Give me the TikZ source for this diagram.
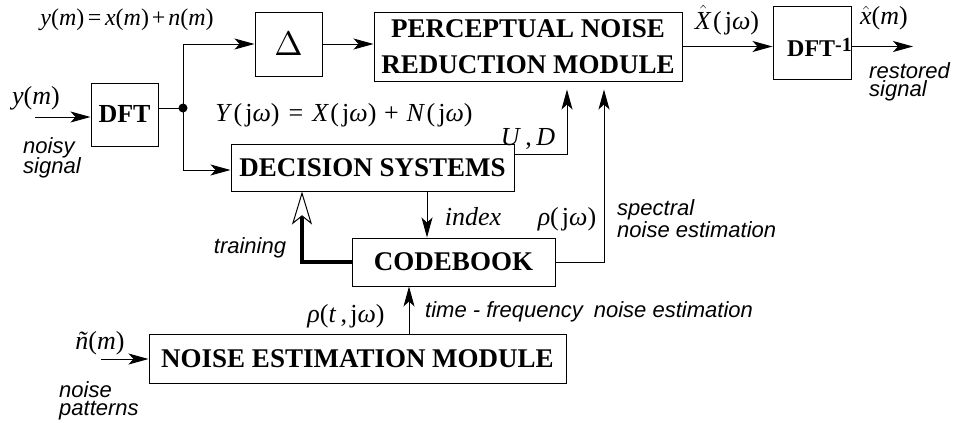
\documentclass[tikz,border=0pt]{standalone}
\usepackage{graphicx}
\usepackage{fontspec}
\setmainfont{Liberation Serif}
\newfontfamily\lsans{Liberation Sans}
\usetikzlibrary{arrows.meta}
\newcommand\mv[1]{\textit{#1}}
\newcommand\jw{\hspace{0.12em}j\mv{ω}}
\newcommand\hatof[1]{$\hat{\mbox{\textit{#1}}}$}
\begin{document}
\lineskiplimit=-30pt
\begin{tikzpicture}[x=1pt,y=-1pt,
  box/.style={draw, line width=1pt, inner sep=0pt, font=\fontsize{27}{36}\selectfont\bfseries},
  arr/.style={line width=1pt, -{Stealth[length=20pt,width=11pt,inset=5pt]}},
  ln/.style={line width=1pt},
  mt/.style={font=\fontsize{26}{28}\selectfont, inner sep=0pt},
  st/.style={font=\fontsize{22}{20}\selectfont\lsans\itshape, inner sep=0pt, align=left}]
\useasboundingbox (0,0) rectangle (956,423);
% boxes
\node[box, minimum width=67pt, minimum height=63pt, font=\fontsize{26}{30}\selectfont\bfseries] (dft) at (124.5,114.5) {DFT};
\node[box, minimum width=67pt, minimum height=64pt, font=\normalsize] (delta) at (288.5,44) {\scalebox{3.4}{$\Delta$}};
\node[box, minimum width=308pt, minimum height=69pt, align=center] (per) at (528,46.5) {PERCEPTUAL NOISE\\REDUCTION MODULE};
\node[box, minimum width=78pt, minimum height=73pt, font=\fontsize{24}{28}\selectfont\bfseries] (idft) at (812,42.5) {\rule{0pt}{29pt}\hspace*{7.5pt}DFT\raisebox{5pt}{\fontsize{20}{20}\selectfont\bfseries -1}\hspace*{-7.5pt}};
\node[box, minimum width=283pt, minimum height=47pt] (dec) at (372.5,167.5) {DECISION SYSTEMS};
\node[box, minimum width=203pt, minimum height=48pt] (cb) at (453.5,262) {CODEBOOK};
\node[box, minimum width=417pt, minimum height=49pt] (nem) at (357.5,358.5) {NOISE ESTIMATION MODULE};
% connectors
\coordinate (yin) at (35,117);
\draw[arr] (yin) -- (dft.west |- yin);
\coordinate (jn) at (183,108);
\draw[ln] (dft.east |- jn) -- (jn);
\fill (jn) circle (4.5pt);
\draw[arr] (jn) |- (delta.west);
\draw[arr] (jn) |- ([yshift=-2.5pt]dec.west);
\draw[arr] (delta.east) -- (per.west |- delta.east);
\draw[arr] (per.east) -- (idft.west |- per.east);
\coordinate (xout) at (913,46.5);
\draw[arr] (idft.east |- xout) -- (xout);
\draw[arr, shorten >=8pt] ([yshift=-11pt]dec.north east) -| ([xshift=39pt]per.south);
\draw[arr, shorten >=8pt] (cb.east) -| ([xshift=76pt]per.south);
\draw[arr] ([xshift=54.5pt]dec.south) -- ([xshift=54.5pt]dec.south |- cb.north);
\draw[line width=4pt, line join=miter, -{Stealth[open, fill=white, line width=1pt, length=33pt, width=20pt, inset=8pt]}] (cb.west) -| ([xshift=-70.5pt]dec.south);
\draw[arr] ([xshift=51.5pt]nem.north) -- ([xshift=51.5pt]nem.north |- cb.south);
\coordinate (nin) at (101,359);
\draw[arr] (nin) -- (nem.west |- nin);
% labels
\node[mt, font=\fontsize{24}{26}\selectfont] (l1) at (127,20) {\mv{y}(\mv{m})\hspace{0.15em}=\hspace{0.15em}\mv{x}(\mv{m})\hspace{0.12em}+\hspace{0.12em}\mv{n}(\mv{m})};
\node[mt] (l2) at (36,98) {\mv{y}(\mv{m})};
\node[st, anchor=north west] (l3) at (23,137) {noisy\\signal};
\node[mt] (l4) at (344,115) {\mv{Y}\hspace{0.05em}(\jw)\hspace{0.35em}=\hspace{0.35em}\mv{X}\hspace{0.05em}(\jw)\hspace{0.3em}+\hspace{0.3em}\mv{N}\hspace{0.05em}(\jw)};
\node[mt] (l5) at (727,20) {\hatof{X}\hspace{0.05em}(\jw)};
\node[mt] (l6) at (884,18) {\hatof{x}(\mv{m})};
\node[st, anchor=north west, font=\fontsize{22}{18}\selectfont\lsans\itshape] (l7) at (869,62) {restored\\signal};
\node[mt] (l8) at (528,139) {\mv{U}\,,\,\mv{D}};
\node[mt] (l9) at (473,217) {\mv{index}};
\node[mt] (l10) at (567,219) {\mv{ρ}(\jw)};
\node[st, anchor=north west, font=\fontsize{22}{22}\selectfont\lsans\itshape] (l11) at (617,199) {spectral\\noise estimation};
\node[st] (l12) at (250,248) {training};
\node[mt] (l13) at (346,316) {\mv{ρ}(\mv{t}\,,\jw)};
\node[st, anchor=west] (l14) at (425,312) {time - frequency\enspace noise estimation};
\node[mt] (l15) at (100,343) {\mv{ñ}(\mv{m})};
\node[st, anchor=north west, font=\fontsize{22}{18}\selectfont\lsans\itshape] (l16) at (59,381) {noise\\patterns};
\end{tikzpicture}
\end{document}
